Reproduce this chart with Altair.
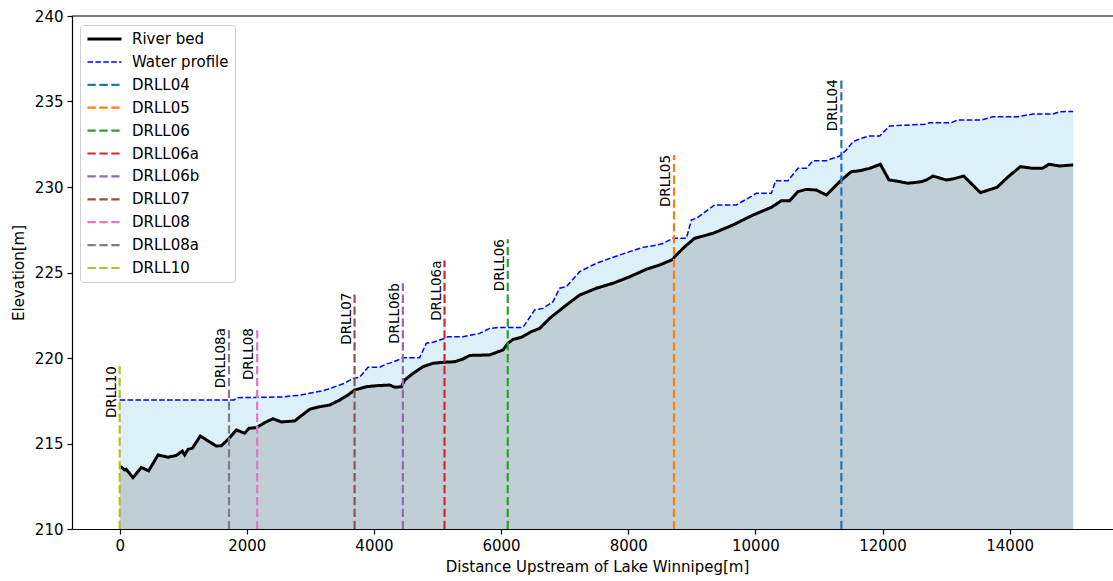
import altair as alt
import pandas as pd

# River bed elevation along the channel (distance upstream [m], elevation [m])
bed_x = [0, 30, 80, 100, 210, 340, 456, 603, 760, 891, 986, 1022, 1075, 1143,
         1269, 1390, 1521, 1600, 1704, 1835, 1966, 2034, 2150, 2281, 2412, 2543,
         2753, 2832, 2989, 3146, 3303, 3461, 3591, 3697, 3881, 4038, 4247, 4326,
         4431, 4483, 4614, 4771, 4928, 5086, 5270, 5400, 5506, 5820, 6030, 6108,
         6187, 6319, 6476, 6607, 6764, 7027, 7236, 7499, 7760, 8023, 8285, 8495,
         8704, 8731, 8889, 9045, 9333, 9648, 9962, 10252, 10409, 10540, 10670,
         10802, 10960, 11117, 11353, 11510, 11641, 11798, 11966, 12102, 12218,
         12401, 12611, 12690, 12794, 13004, 13109, 13278, 13540, 13801, 13990,
         14169, 14367, 14515, 14619, 14787, 15000]
bed_y = [213.68, 213.6, 213.45, 213.5, 213.0, 213.6, 213.4, 214.33, 214.2, 214.3,
         214.56, 214.33, 214.66, 214.72, 215.44, 215.15, 214.85, 214.87, 215.24,
         215.79, 215.6, 215.89, 215.93, 216.22, 216.45, 216.26, 216.32, 216.55,
         217.0, 217.15, 217.25, 217.54, 217.84, 218.13, 218.32, 218.38, 218.42,
         218.29, 218.32, 218.71, 219.1, 219.49, 219.69, 219.75, 219.78, 219.94,
         220.15, 220.18, 220.47, 220.86, 221.09, 221.21, 221.54, 221.73, 222.32,
         223.1, 223.68, 224.08, 224.37, 224.75, 225.19, 225.44, 225.77, 225.93,
         226.51, 227.0, 227.29, 227.78, 228.36, 228.81, 229.2, 229.2, 229.73,
         229.86, 229.82, 229.53, 230.41, 230.9, 230.95, 231.09, 231.33, 230.41,
         230.35, 230.22, 230.31, 230.41, 230.64, 230.41, 230.47, 230.64, 229.67,
         229.98, 230.64, 231.19, 231.09, 231.09, 231.33, 231.23, 231.29]

# Water surface profile
water_x = [0, 1800, 1850, 2570, 2700, 2832, 2989, 3198, 3303, 3461, 3539, 3670,
           3775, 3906, 4090, 4195, 4274, 4378, 4457, 4719, 4824, 4928, 5112, 5165,
           5400, 5663, 5820, 5977, 6344, 6528, 6659, 6816, 6921, 7027, 7236, 7499,
           7760, 8023, 8232, 8443, 8546, 8704, 8915, 8993, 9072, 9360, 9701, 10016,
           10252, 10319, 10513, 10670, 10802, 10906, 11117, 11326, 11431, 11535,
           11667, 11798, 11955, 12113, 12663, 12742, 13083, 13187, 13555, 13737,
           14131, 14367, 14681, 14787, 15000]
water_y = [217.55, 217.55, 217.68, 217.72, 217.78, 217.82, 217.94, 218.09, 218.21,
           218.42, 218.52, 218.81, 218.87, 219.46, 219.46, 219.65, 219.73, 219.88,
           220.02, 220.02, 220.86, 220.92, 221.15, 221.25, 221.25, 221.44, 221.73,
           221.79, 221.79, 222.81, 222.9, 223.29, 224.08, 224.17, 225.05, 225.54,
           225.89, 226.22, 226.47, 226.6, 226.7, 227.0, 227.0, 228.07, 228.17,
           228.95, 228.95, 229.63, 229.63, 230.37, 230.37, 231.09, 231.09, 231.54,
           231.54, 231.81, 232.16, 232.65, 232.85, 232.98, 232.98, 233.57, 233.67,
           233.76, 233.76, 233.92, 233.92, 234.11, 234.11, 234.27, 234.27, 234.4,
           234.42]

# Gauge stations: location and top of the marker line
station_names = ["DRLL04", "DRLL05", "DRLL06", "DRLL06a", "DRLL06b", "DRLL07",
                 "DRLL08", "DRLL08a", "DRLL10"]
station_x = [11353, 8720, 6105, 5110, 4455, 3695, 2163, 1720, 0]
station_top = [236.3, 231.87, 226.95, 225.7, 224.37, 223.82, 221.75, 221.75, 219.53]
station_colors = ["#1f77b4", "#ff7f0e", "#2ca02c", "#d62728", "#9467bd",
                  "#8c564b", "#e377c2", "#7f7f7f", "#bcbd22"]

BASE = 210
FONT = "DejaVu Sans"
W, H = 1041, 513

series_names = ["River bed", "Water profile"] + station_names
series_colors = ["black", "blue"] + station_colors
series_dash = [[1, 0], [5.5, 2.4]] + [[8.3, 3.6]] * len(station_names)
series_width = [3, 1.5] + [2.2] * len(station_names)

bed_df = pd.DataFrame({"x": bed_x, "y": bed_y, "base": BASE})
water_df = pd.DataFrame({"x": water_x, "y": water_y, "base": BASE})

rows = []
for i, (x, y) in enumerate(zip(bed_x, bed_y)):
    rows.append({"series": "River bed", "x": x, "y": y, "idx": i})
for i, (x, y) in enumerate(zip(water_x, water_y)):
    rows.append({"series": "Water profile", "x": x, "y": y, "idx": i})
for name, x, top in zip(station_names, station_x, station_top):
    rows.append({"series": name, "x": x, "y": BASE, "idx": 0})
    rows.append({"series": name, "x": x, "y": top, "idx": 1})
lines_df = pd.DataFrame(rows)

labels_df = pd.DataFrame({"name": station_names, "x": station_x, "top": station_top})

x_scale = alt.Scale(domain=[-750, 15626], nice=False, zero=False)
y_scale = alt.Scale(domain=[210, 240], nice=False, zero=False)

x_axis = alt.Axis(values=list(range(0, 15000, 2000)), format="d", grid=False,
                  titleX=525, titlePadding=6)
y_axis = alt.Axis(values=list(range(210, 241, 5)), grid=False, titlePadding=8)

water_area = alt.Chart(water_df).mark_area(color="#87ceeb", opacity=0.3).encode(
    x=alt.X("x:Q", scale=x_scale, axis=x_axis,
            title="Distance Upstream of Lake Winnipeg[m]"),
    y=alt.Y("y:Q", scale=y_scale, axis=y_axis, title="Elevation[m]"),
    y2="base:Q",
)

bed_area = alt.Chart(bed_df).mark_area(color="#808080", opacity=0.3).encode(
    x="x:Q", y="y:Q", y2="base:Q"
)

lines = alt.Chart(lines_df).mark_line().encode(
    x="x:Q",
    y="y:Q",
    color=alt.Color("series:N", scale=alt.Scale(domain=series_names, range=series_colors),
                    legend=alt.Legend(title=None)),
    strokeDash=alt.StrokeDash("series:N",
                              scale=alt.Scale(domain=series_names, range=series_dash),
                              legend=alt.Legend(title=None)),
    strokeWidth=alt.StrokeWidth("series:N",
                                scale=alt.Scale(type="ordinal", domain=series_names,
                                                range=series_width),
                                legend=alt.Legend(title=None)),
    order="idx:Q",
)

labels = alt.Chart(labels_df).mark_text(
    angle=270, align="right", baseline="bottom", dy=-1,
    fontSize=13.5, font=FONT, color="black"
).encode(x="x:Q", y="top:Q", text="name:N")

frame_top = alt.Chart(pd.DataFrame({"k": [0]})).mark_rule(
    color="black", strokeWidth=1.2
).encode(x=alt.value(0), x2=alt.value(W), y=alt.value(0))

chart = alt.layer(water_area, bed_area, lines, labels, frame_top).properties(
    width=W, height=H,
    autosize=alt.AutoSizeParams(type="none"),
    padding={"left": 72, "top": 16, "right": 0, "bottom": 52},
).configure_view(stroke=None).configure_axis(
    labelFont=FONT, titleFont=FONT, labelFontSize=15, titleFontSize=15,
    titleFontWeight="normal", labelColor="black", titleColor="black",
    domainColor="black", tickColor="black", domainWidth=1.2, tickWidth=1.2,
    tickSize=5, labelPadding=4,
).configure_legend(
    orient="none", legendX=8, legendY=9,
    labelFont=FONT, labelFontSize=15, labelColor="black",
    symbolSize=1156, clipHeight=16, rowPadding=6.9,
    symbolOffset=0, labelOffset=9, padding=6,
    strokeColor="#cccccc", fillColor="rgba(255,255,255,0.8)", cornerRadius=3,
)

chart.save("out.html", embed_options={"renderer": "svg", "actions": False})
